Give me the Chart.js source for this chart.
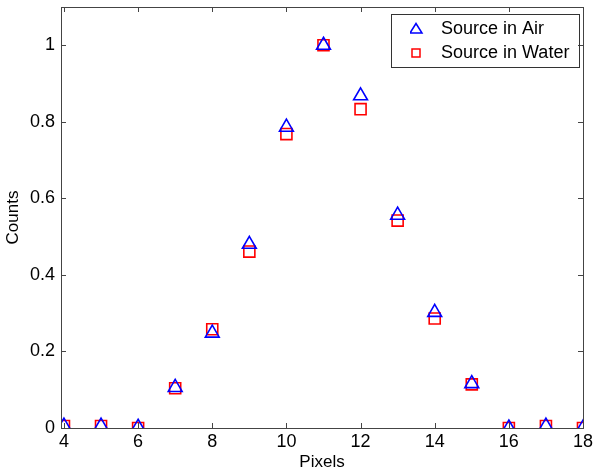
<!DOCTYPE html>
<html>
<head>
<meta charset="utf-8">
<script src="https://cdn.jsdelivr.net/npm/chart.js@4"></script>
<style>
  html, body { margin: 0; padding: 0; background: #fff; }
  #wrap { width: 600px; height: 473px; }
</style>
</head>
<body>
<div id="wrap"><canvas id="countsChart" width="600" height="473"></canvas></div>
<script>
    const pixels = [4, 5, 6, 7, 8, 9, 10, 11, 12, 13, 14, 15, 16, 17, 18];
    const airCounts = [0.005, 0.005, 0.002, 0.106, 0.248, 0.480, 0.786, 1.0, 0.868, 0.556, 0.302, 0.116, 0.0, 0.005, 0.0];
    const waterCounts = [0.005, 0.005, 0.0, 0.104, 0.258, 0.461, 0.768, 1.0, 0.833, 0.542, 0.286, 0.114, 0.0, 0.005, 0.0];
    const xTicks = [4, 6, 8, 10, 12, 14, 16, 18];
    const yTicks = [0, 0.2, 0.4, 0.6, 0.8, 1];

    const font = 'Liberation Sans, Arial, sans-serif';
    const axisColor = '#444';

    // legend icons: marker drawn near the left of a wider canvas so the text sits further right
    function legendIcon(shape, color) {
        const c = document.createElement('canvas');
        c.width = 22; c.height = 16;
        const g = c.getContext('2d');
        g.strokeStyle = color;
        g.lineWidth = 1.5;
        g.beginPath();
        if (shape === 'triangle') {
            g.moveTo(6, 2.5); g.lineTo(12, 12); g.lineTo(0, 12); g.closePath();
        } else {
            g.rect(2, 4, 8, 8);
        }
        g.stroke();
        return c;
    }

    // matlab style box with inward ticks + legend frame
    const boxPlugin = {
        id: 'boxPlugin',
        afterLayout(chart) {
            const a = chart.chartArea, lg = chart.legend;
            lg.left = a.right - 4 - 188 + 13;
            lg.right = a.right - 4;
            lg.top = a.top + 7;
            lg.bottom = a.bottom;
        },
        afterDraw(chart) {
            const ctx = chart.ctx, a = chart.chartArea;
            const xs = chart.scales.x, ys = chart.scales.y;
            ctx.save();
            ctx.strokeStyle = axisColor;
            ctx.lineWidth = 1;
            ctx.strokeRect(a.left + 0.5, a.top + 0.5, a.right - a.left, a.bottom - a.top);
            ctx.beginPath();
            xTicks.forEach(v => {
                const px = Math.round(xs.getPixelForValue(v)) + 0.5;
                ctx.moveTo(px, a.bottom); ctx.lineTo(px, a.bottom - 5);
                ctx.moveTo(px, a.top); ctx.lineTo(px, a.top + 5);
            });
            yTicks.forEach(v => {
                const py = Math.round(ys.getPixelForValue(v)) + 0.5;
                ctx.moveTo(a.left, py); ctx.lineTo(a.left + 5, py);
                ctx.moveTo(a.right, py); ctx.lineTo(a.right - 5, py);
            });
            ctx.stroke();
            // legend frame
            const r = a.right - 4, t = a.top + 7;
            ctx.strokeStyle = '#333';
            ctx.strokeRect(r - 188 + 0.5, t + 0.5, 188, 53);
            ctx.restore();
        }
    };

    const ctx = document.getElementById('countsChart').getContext('2d');
    const countsChart = new Chart(ctx, {
        type: 'scatter',
        data: {
            datasets: [{
                label: 'Source in Air',
                data: pixels.map((p, i) => ({ x: p, y: airCounts[i] })),
                pointStyle: 'triangle',
                pointRadius: 8,
                pointHoverRadius: 8,
                borderColor: '#0000ff',
                backgroundColor: 'rgba(0,0,0,0)',
                borderWidth: 1.6
            }, {
                label: 'Source in Water',
                data: pixels.map((p, i) => ({ x: p, y: waterCounts[i] })),
                pointStyle: 'rect',
                pointRadius: 7.8,
                pointHoverRadius: 7.8,
                borderColor: '#ff0000',
                backgroundColor: 'rgba(0,0,0,0)',
                borderWidth: 1.6
            }]
        },
        options: {
            responsive: false,
            animation: false,
            layout: { autoPadding: false, padding: { top: 7, right: 17, left: 0, bottom: 0 } },
            plugins: {
                tooltip: { enabled: false },
                legend: {
                    position: 'chartArea',
                    align: 'start',
                    labels: {
                        usePointStyle: true,
                        pointStyleWidth: 22,
                        boxHeight: 11,
                        padding: 6,
                        color: '#000',
                        font: { family: font, size: 18 },
                        generateLabels(chart) {
                            return chart.data.datasets.map((ds, i) => ({
                                text: ds.label,
                                pointStyle: legendIcon(ds.pointStyle, ds.borderColor),
                                fillStyle: 'rgba(0,0,0,0)',
                                strokeStyle: ds.borderColor,
                                lineWidth: 0,
                                fontColor: '#000',
                                hidden: false,
                                datasetIndex: i
                            }));
                        }
                    }
                }
            },
            scales: {
                x: {
                    type: 'linear',
                    min: 3.92,
                    max: 18,
                    afterBuildTicks: s => { s.ticks = xTicks.map(v => ({ value: v })); },
                    afterFit: s => { s.height = 45; s.paddingLeft = 0; s.paddingRight = 0; },
                    grid: { display: false, drawTicks: false },
                    border: { display: false },
                    ticks: {
                        padding: 3,
                        color: '#000',
                        maxRotation: 0,
                        font: { family: font, size: 18 },
                        callback: v => String(v)
                    },
                    title: {
                        display: true,
                        text: 'Pixels',
                        color: '#000',
                        padding: { top: 0, bottom: 0 },
                        font: { family: font, size: 17 }
                    }
                },
                y: {
                    min: 0,
                    max: 1.1,
                    afterBuildTicks: s => { s.ticks = yTicks.map(v => ({ value: v })); },
                    afterFit: s => { s.width = 61; s.paddingTop = 0; s.paddingBottom = 0; },
                    grid: { display: false, drawTicks: false },
                    border: { display: false },
                    ticks: {
                        padding: 6,
                        color: '#000',
                        font: { family: font, size: 18 },
                        callback: v => String(+v.toFixed(1))
                    },
                    title: {
                        display: true,
                        text: 'Counts',
                        color: '#000',
                        padding: { top: 3, bottom: 0 },
                        font: { family: font, size: 17 }
                    }
                }
            }
        },
        plugins: [boxPlugin]
    });
</script>
</body>
</html>
